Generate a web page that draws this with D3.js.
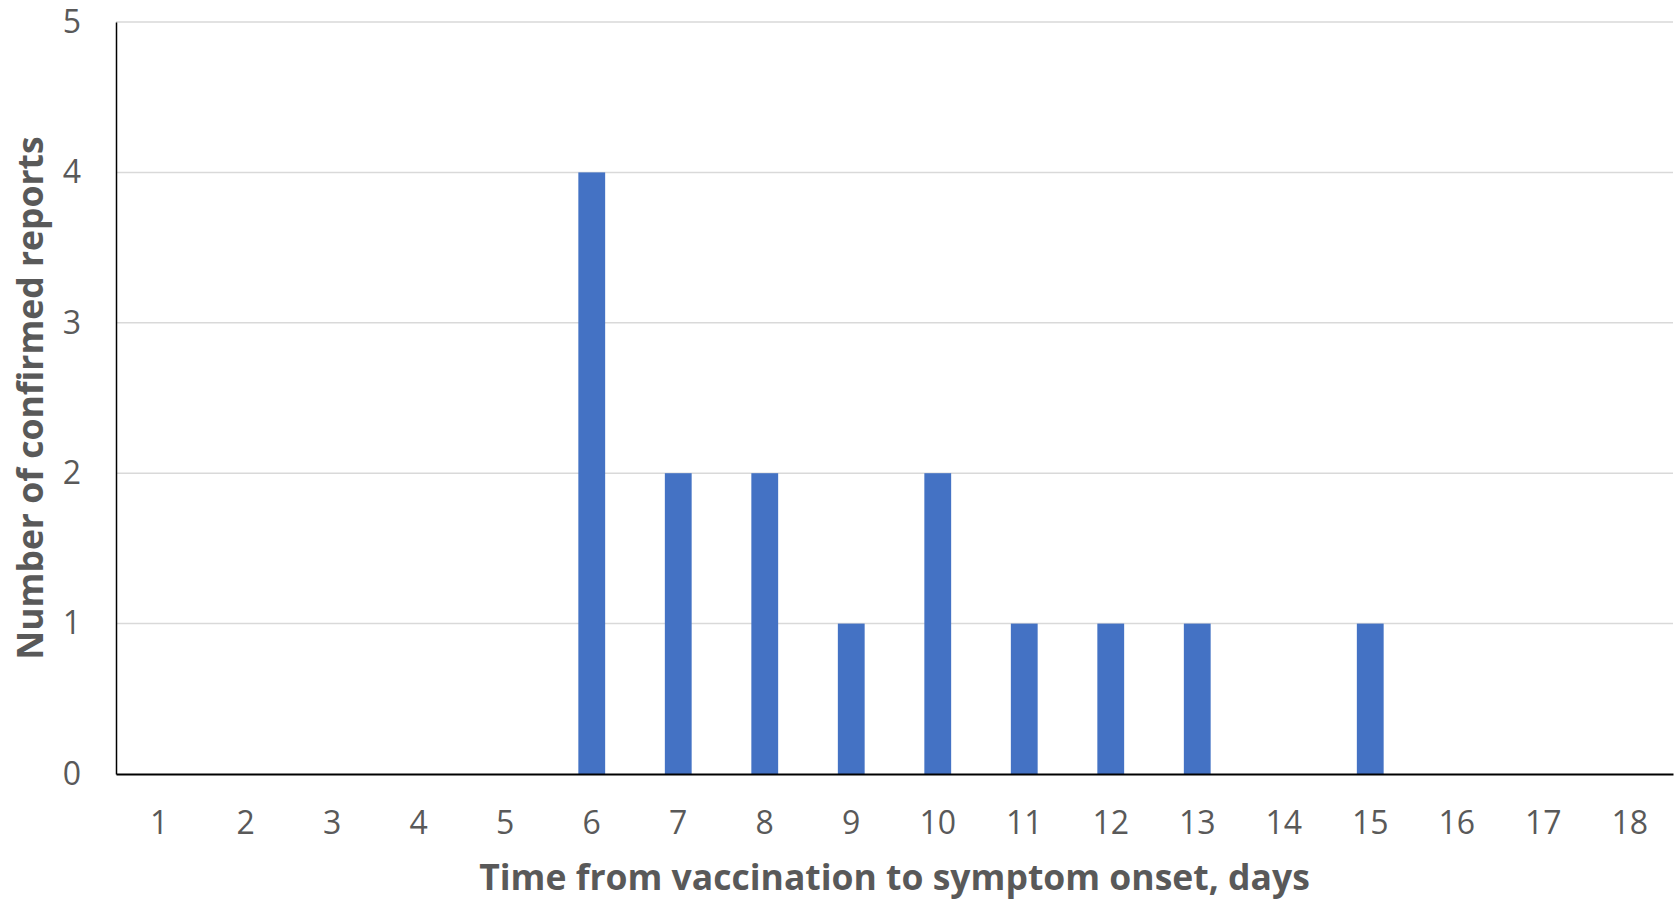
<!DOCTYPE html>
<html>
<head>
<meta charset="utf-8">
<script src="https://cdn.jsdelivr.net/npm/d3@7"></script>
<style>
  html, body { margin: 0; padding: 0; background: #fff; }
  svg { display: block; }
</style>
</head>
<body>
<svg id="chart" width="1675" height="900"></svg>
<script>
const days = [1, 2, 3, 4, 5, 6, 7, 8, 9, 10, 11, 12, 13, 14, 15, 16, 17, 18];
const reports = [0, 0, 0, 0, 0, 4, 2, 2, 1, 2, 1, 1, 1, 0, 1, 0, 0, 0];
const yTicks = [0, 1, 2, 3, 4, 5];
const xTitle = "Time from vaccination to symptom onset, days";
const yTitle = "Number of confirmed reports";

const W = 1675, H = 900;
const m = { left: 116, right: 2, top: 22, bottom: 126 };
const svg = d3.select("#chart");
const font = "'Open Sans', sans-serif";
const grey = "#595959";

const x = d3.scaleBand().domain(days).range([m.left, W - m.right]).paddingInner(0.69).paddingOuter(0.345);
const y = d3.scaleLinear().domain([0, 5]).range([H - m.bottom, m.top]);

// gridlines
svg.append("g").selectAll("line").data(yTicks.filter(d => d > 0)).join("line")
  .attr("x1", m.left).attr("x2", W - m.right)
  .attr("y1", d => y(d)).attr("y2", d => y(d))
  .attr("stroke", "#d9d9d9").attr("stroke-width", 1.5);

// bars
svg.append("g").selectAll("rect").data(days.map((d, i) => ({ d, v: reports[i] })).filter(o => o.v > 0)).join("rect")
  .attr("x", o => x(o.d)).attr("width", x.bandwidth())
  .attr("y", o => y(o.v)).attr("height", o => y(0) - y(o.v))
  .attr("fill", "#4472c4");

// y axis
const yAxis = svg.append("g").attr("transform", `translate(${m.left},0)`)
  .call(d3.axisLeft(y).tickValues(yTicks).tickSize(0).tickPadding(35).tickFormat(d3.format("d")));
yAxis.select(".domain").attr("stroke", "#000").attr("stroke-width", 1.5);
yAxis.selectAll("text").attr("font-family", font).attr("font-size", 32).attr("fill", grey);

// x axis
const xAxis = svg.append("g").attr("transform", `translate(0,${y(0)})`)
  .call(d3.axisBottom(x).tickSize(0).tickPadding(37));
xAxis.select(".domain").attr("stroke", "#000").attr("stroke-width", 2);
xAxis.selectAll("text").attr("font-family", font).attr("font-size", 32).attr("fill", grey);

// axis titles
svg.append("text").attr("x", (m.left + W - m.right) / 2).attr("y", 890)
  .attr("text-anchor", "middle").attr("font-family", font).attr("font-weight", "bold")
  .attr("font-size", 35.5).attr("fill", grey).text(xTitle);

svg.append("text").attr("transform", `translate(43,${(y(0) + y(5)) / 2}) rotate(-90)`)
  .attr("text-anchor", "middle").attr("font-family", font).attr("font-weight", "bold")
  .attr("font-size", 35.5).attr("fill", grey).text(yTitle);
</script>
</body>
</html>
